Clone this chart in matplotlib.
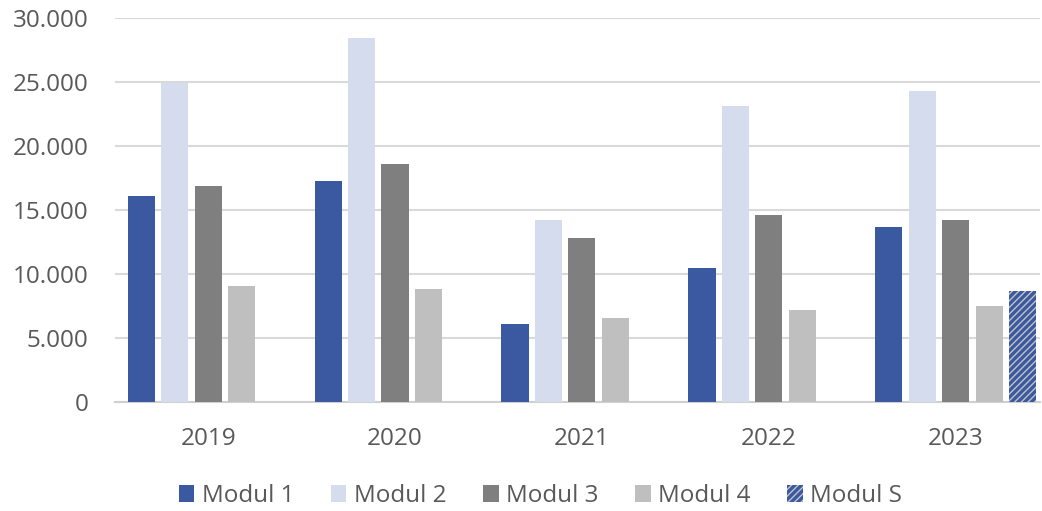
import numpy as np
import matplotlib.pyplot as plt
from matplotlib.ticker import FuncFormatter

# Werte
years = ["2019", "2020", "2021", "2022", "2023"]
modul_1 = [16100, 17300, 6100, 10500, 13700]
modul_2 = [24900, 28400, 14200, 23100, 24300]
modul_3 = [16900, 18600, 12800, 14600, 14200]
modul_4 = [9100, 8800, 6600, 7200, 7500]
modul_s = [0, 0, 0, 0, 8700]

series = [
    ("Modul 1", modul_1, "#3a59a1"),
    ("Modul 2", modul_2, "#d5dcee"),
    ("Modul 3", modul_3, "#7f7f7f"),
    ("Modul 4", modul_4, "#bfbfbf"),
]

plt.rcParams['font.family'] = ['Open Sans', 'DejaVu Sans']
plt.rcParams['hatch.linewidth'] = 2.4
plt.rcParams['hatch.color'] = "#3a59a1"

fig = plt.figure(figsize=(10.42, 5.11), dpi=100)
ax = fig.add_axes([0.110, 0.2133, 0.888, 0.7515])

x = np.arange(len(years))
slot = 0.179
width = 0.145
for i, (name, vals, col) in enumerate(series):
    ax.bar(x + (i - 2) * slot, vals, width, color=col, label=name, zorder=3)
ax.bar(x + 2 * slot, modul_s, width, facecolor="#c4c4c4", edgecolor="#3a59a1",
       hatch="/////", linewidth=0, label="Modul S", zorder=3)

ax.set_xlim(-0.5, 4.45)
ax.set_ylim(0, 30000)
ax.set_yticks(range(0, 30001, 5000))
ax.yaxis.set_major_formatter(FuncFormatter(lambda v, p: f"{int(v):,}".replace(",", ".")))
ax.set_xticks(x)
ax.set_xticklabels(years)

ax.grid(axis="y", color="#d9d9d9", linewidth=1.5, zorder=0)
for s in ["top", "right", "left"]:
    ax.spines[s].set_visible(False)
ax.spines["bottom"].set_color("#d0d0d0")
ax.spines["bottom"].set_linewidth(1.5)
ax.tick_params(axis="y", length=0, pad=19, labelsize=17.5, labelcolor="#595959")
ax.tick_params(axis="x", length=0, pad=18, labelsize=17.5, labelcolor="#595959")

leg = ax.legend(loc="center", bbox_to_anchor=(0.46, -0.245), ncol=5, frameon=False,
                fontsize=17.5, handlelength=0.65, handleheight=0.65, handletextpad=0.3,
                columnspacing=1.5)
for t in leg.get_texts():
    t.set_color("#595959")

plt.savefig("out.png", dpi=100)
